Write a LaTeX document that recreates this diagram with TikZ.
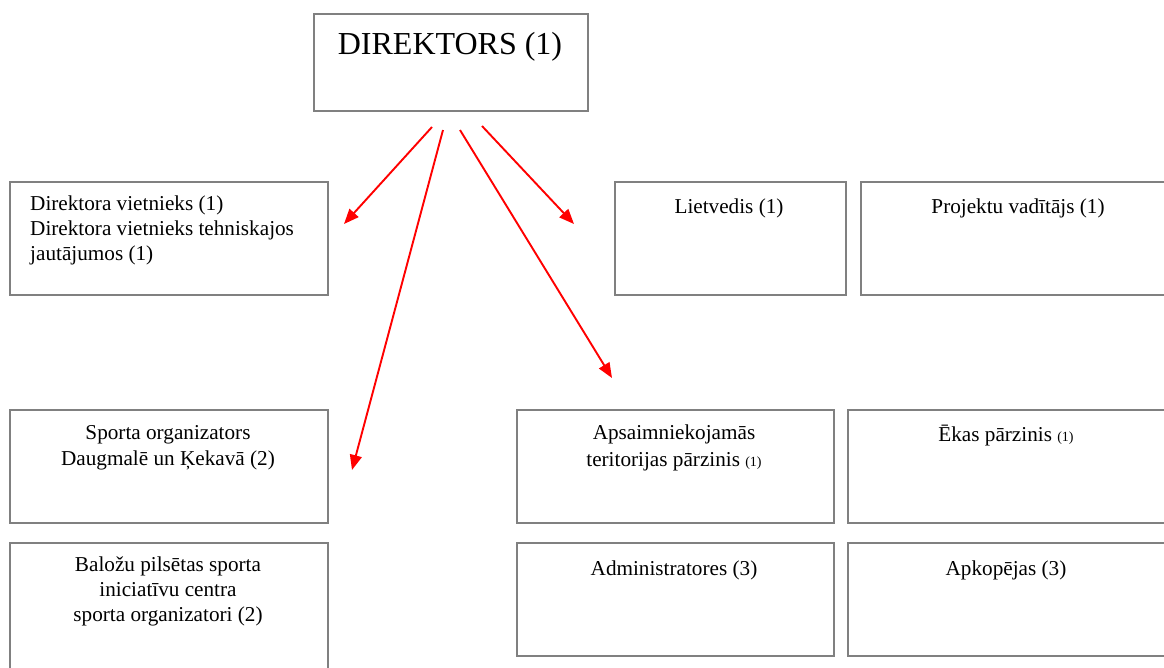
\documentclass[tikz,border=0pt]{standalone}
\usepackage{fontspec}
\setmainfont{Liberation Serif}
\usetikzlibrary{arrows.meta}
\definecolor{boxgray}{HTML}{808080}
\definecolor{arrowred}{HTML}{FF0000}
\tikzset{
  orgbox/.style={draw=boxgray, line width=1.7pt, anchor=north west, inner sep=0pt, rectangle},
  boxtext/.style={anchor=north, inner sep=0pt, align=center, font=\fontsize{21.2}{25}\selectfont},
  redarrow/.style={draw=arrowred, line width=1.9pt, -{Triangle[length=15pt,width=12pt]}}
}
\newcommand{\smallone}{{\fontsize{14}{16}\selectfont (1)}}
\begin{document}
\begin{tikzpicture}[x=1pt,y=-1pt]
\useasboundingbox (0,0) rectangle (1164,667);
\clip (0,0) rectangle (1164,667);
% boxes
\node[orgbox, minimum width=274pt, minimum height=97pt] (dir) at (313,13) {};
\node[orgbox, minimum width=318pt, minimum height=113pt] (dv) at (9,181) {};
\node[orgbox, minimum width=231pt, minimum height=113pt] (liet) at (614,181) {};
\node[orgbox, minimum width=320pt, minimum height=113pt] (proj) at (860,181) {};
\node[orgbox, minimum width=318pt, minimum height=113pt] (sport) at (9,409) {};
\node[orgbox, minimum width=317pt, minimum height=113pt] (apsa) at (516,409) {};
\node[orgbox, minimum width=330pt, minimum height=113pt] (ekas) at (847,409) {};
\node[orgbox, minimum width=318pt, minimum height=140pt] (balo) at (9,542) {};
\node[orgbox, minimum width=317pt, minimum height=113pt] (admin) at (516,542) {};
\node[orgbox, minimum width=330pt, minimum height=113pt] (apko) at (847,542) {};
% texts
\node[anchor=base, inner sep=0pt, font=\fontsize{32}{36}\selectfont] (tdir) at (450,54) {DIREKTORS (1)};
\node[boxtext, anchor=north west, align=left] (tdv) at (30,196) {Direktora vietnieks (1)\\Direktora vietnieks tehniskajos\\jautājumos (1)};
\node[boxtext] (tliet) at (729,199) {Lietvedis (1)};
\node[boxtext] (tproj) at (1018,199) {Projektu vadītājs (1)};
\node[boxtext, font=\fontsize{21.2}{26}\selectfont] (tsport) at (168,425) {Sporta organizators\\Daugmalē un Ķekavā (2)};
\node[boxtext, font=\fontsize{21.2}{26.5}\selectfont] (tapsa) at (674,425) {Apsaimniekojamās\\teritorijas pārzinis \smallone};
\node[boxtext] (tekas) at (1006,425) {Ēkas pārzinis \smallone};
\node[boxtext] (tbalo) at (168,557) {Baložu pilsētas sporta\\iniciatīvu centra\\sporta organizatori (2)};
\node[boxtext] (tadmin) at (674,561) {Administratores (3)};
\node[boxtext] (tapko) at (1006,561) {Apkopējas (3)};
% arrows
\coordinate (s1) at (432,127); \coordinate (e1) at (344,224);
\coordinate (s2) at (443,130); \coordinate (e2) at (352,470);
\coordinate (s3) at (460,130); \coordinate (e3) at (612,378);
\coordinate (s4) at (482,126); \coordinate (e4) at (574,224);
\draw[redarrow] (s1) -- (e1);
\draw[redarrow] (s2) -- (e2);
\draw[redarrow] (s3) -- (e3);
\draw[redarrow] (s4) -- (e4);
\end{tikzpicture}
\end{document}
